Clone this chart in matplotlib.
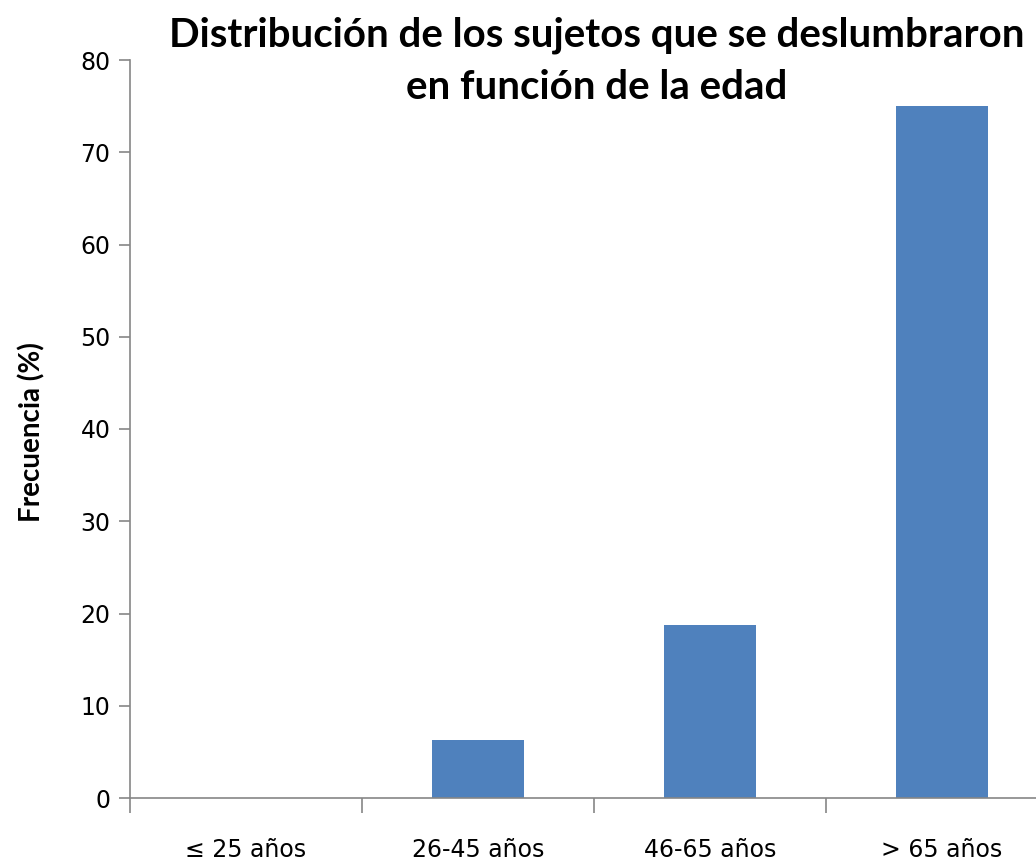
import matplotlib.pyplot as plt
import numpy as np

categories = ["≤ 25 años", "26-45 años", "46-65 años", "> 65 años"]
frecuencia = [0, 6.25, 18.75, 75]

fig = plt.figure(figsize=(10.36, 8.61), dpi=100)
ax = fig.add_axes([130 / 1036, 63 / 861, 928 / 1036, 738 / 861])

x = np.arange(len(categories))
ax.bar(x, frecuencia, width=0.4, color="#4F81BD")

ax.set_xlim(-0.5, len(categories) - 0.5)
ax.set_ylim(0, 80)
ax.set_yticks(range(0, 81, 10))
ax.tick_params(axis="y", labelsize=17, length=8, width=1.2, color="#868686", pad=6)

ax.set_xticks(x)
ax.set_xticklabels(categories)
ax.set_xticks(np.arange(-0.5, len(categories), 1), minor=True)
ax.tick_params(axis="x", which="major", length=0, labelsize=17, pad=29)
ax.tick_params(axis="x", which="minor", length=11, width=1.2, color="#868686")

for s in ("top", "right"):
    ax.spines[s].set_visible(False)
for s in ("left", "bottom"):
    ax.spines[s].set_color("#868686")
    ax.spines[s].set_linewidth(1.2)

fig.text(32 / 1036, 1 - 432 / 861, "Frecuencia (%)", rotation=90,
         ha="center", va="center", fontsize=20, fontweight="bold",
         family="Lato")
fig.text(597 / 1036, 1 - 61 / 861,
         "Distribución de los sujetos que se deslumbraron\nen función de la edad",
         ha="center", va="center", fontsize=29, fontweight="bold",
         family="Lato", linespacing=1.5)

fig.savefig("out.png", dpi=100)
